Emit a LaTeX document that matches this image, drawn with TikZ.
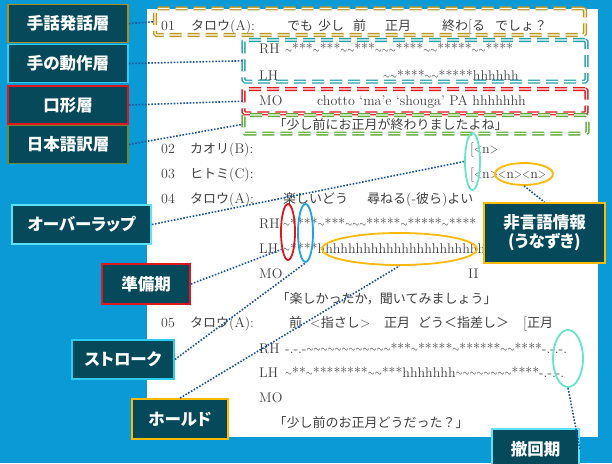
\documentclass[tikz,border=0pt]{standalone}
\usepackage{fontspec}
\usepackage{graphicx}
\newfontfamily\cjk{Noto Sans CJK JP}
\newfontfamily\cjklbl[RawFeature=+palt]{Noto Sans CJK JP}
\usetikzlibrary{shapes.geometric}
\definecolor{bgblue}{HTML}{0A9BD6}
\definecolor{boxfill}{HTML}{06495A}
\definecolor{goldlbl}{HTML}{B08C1E}
\definecolor{golddash}{HTML}{BE981E}
\definecolor{tealdash}{HTML}{24A2AC}
\definecolor{redc}{HTML}{E3161E}
\definecolor{greendash}{HTML}{5FAC38}
\definecolor{greenlbl}{HTML}{6B8A35}
\definecolor{cyanA}{HTML}{2ECBF5}
\definecolor{cyanB}{HTML}{5EE0F8}
\definecolor{amber}{HTML}{FFB900}
\definecolor{mint}{HTML}{66E6C8}
\definecolor{blueell}{HTML}{1DA5E8}
\definecolor{dotc}{HTML}{1A55A0}
\definecolor{txtgray}{HTML}{404040}
\newcommand\tld{\makebox[0.5em]{\raisebox{0.3pt}{\scalebox{0.62}[0.8]{$\sim$}}}}
\newcommand\nlt{\scalebox{0.77}[1]{<}}
\newcommand\ngt{\scalebox{0.77}[1]{>}}
\newcommand\jp[1]{{\cjk\fontsize{13}{15}\selectfont #1}}
\newcommand\lblf{\cjklbl\bfseries\fontsize{16.5}{19}\selectfont}
\tikzset{
  tx/.style={anchor=base west, inner sep=0pt, text=txtgray, font=\fontsize{14}{16}\selectfont},
  layer/.style={draw=#1, double=white, double distance=1.3pt, line width=1.4pt,
    dash pattern=on 12pt off 6pt, rounded corners=1.5pt, inner sep=0pt},
  lbl/.style={draw=#1, line width=1.8pt, fill=boxfill, text=white, font=\lblf,
    inner sep=0pt, align=center},
  ell/.style={draw=#1, ellipse, line width=1.8pt, inner sep=0pt},
  conn/.style={draw=dotc, line width=1.6pt, dash pattern=on 1.6pt off 1.6pt}
}
\begin{document}
\begin{tikzpicture}[x=1pt,y=-1pt]
\useasboundingbox (0,0) rectangle (612,463);
\fill[bgblue] (0,0) rectangle (612,463);
\fill[white] (147,9) rectangle (598,437);

% transcript
\node[tx] (n01) at (161,30.5) {01};
\node[tx] (s01) at (191,30.5) {\jp{タロウ}(A):};
\node[tx] (u01a) at (287,30.5) {\jp{でも}};
\node[tx] (u01b) at (318,30.5) {\jp{少し}};
\node[tx] (u01c) at (353,30.5) {\jp{前}};
\node[tx] (u01d) at (385,30.5) {\jp{正月}};
\node[tx] (u01e) at (442,30.5) {\jp{終わ}[\jp{る}};
\node[tx] (u01f) at (495,30.5) {\jp{でしょ？}};
\node[tx] (rh01l) at (259,53.5) {RH};
\node[tx] (rh01) at (285,53.5) {\tld***\tld***\tld\tld***\tld\tld\tld****\tld\tld*****\tld\tld****};
\node[tx] (lh01l) at (259,80) {LH};
\node[tx] (lh01) at (383,80) {\tld\tld****\tld\tld*****hhhhhh};
\node[tx] (mo01l) at (259,105) {MO};
\node[tx] (mo01) at (317,105) {chotto ‘ma’e ‘shouga’ PA hhhhhhh};
\node[tx] (tr01) at (273.5,129.5) {\jp{「少し前にお正月が終わりましたよね」}};

\node[tx] (n02) at (161,153) {02};
\node[tx] (s02) at (190,153) {\jp{カオリ}(B):};
\node[tx] (u02) at (470,153) {[\nlt n\ngt};
\node[tx] (n03) at (161,178) {03};
\node[tx] (s03) at (190,178) {\jp{ヒトミ}(C):};
\node[tx] (u03) at (470,178) {[\nlt n\ngt\nlt n\ngt\nlt n\ngt};

\node[tx] (n04) at (161,203) {04};
\node[tx] (s04) at (190,203) {\jp{タロウ}(A):};
\node[tx] (u04a) at (283,203) {\jp{楽しいどう}};
\node[tx] (u04b) at (367,203) {\jp{尋ねる}(-\jp{彼ら})\jp{よい}};
\node[tx] (rh04l) at (259,228) {RH};
\node[tx] (rh04) at (283,228) {\tld****\tld***\tld\tld\tld*****\tld*****\tld****};
\node[tx] (lh04l) at (259,253) {LH};
\node[tx] (lh04) at (283,253) {\tld****hhhhhhhhhhhhhhhhhhhhhh};
\node[tx] (mo04l) at (259,278) {MO};
\node[tx] (mo04) at (468,278) {II};
\node[tx] (tr04) at (276.5,303) {\jp{「楽しかったか，聞いてみましょう」}};

\node[tx] (n05) at (161,327) {05};
\node[tx] (s05) at (190,327) {\jp{タロウ}(A):};
\node[tx] (u05a) at (289,327) {\jp{前}};
\node[tx] (u05b) at (310,327) {<\jp{指さし}>};
\node[tx] (u05c) at (384,327) {\jp{正月}};
\node[tx] (u05d) at (418,327) {\jp{どう＜指差し＞}};
\node[tx] (u05e) at (523,327) {[\jp{正月}};
\node[tx] (rh05l) at (259,353) {RH};
\node[tx] (rh05) at (285,353) {-.-.-\tld\tld\tld\tld\tld\tld\tld\tld\tld\tld\tld\tld***\tld*****\tld******\tld\tld****-.-.-.};
\node[tx] (lh05l) at (259,377) {LH};
\node[tx] (lh05) at (285,377) {\tld**\tld********\tld\tld***hhhhhhh\tld\tld\tld\tld\tld\tld\tld\tld****-.-.-.};
\node[tx] (mo05l) at (259,402) {MO};
\node[tx] (tr05) at (273.5,427) {\jp{「少し前のお正月どうだった？」}};

% layer boxes
\node[layer=golddash, minimum width=430pt, minimum height=26.6pt] (Bsign) at (370,21.7) {};
\node[layer=tealdash, minimum width=343pt, minimum height=41.6pt] (Bhand) at (415,60.8) {};
\node[layer=redc, minimum width=343pt, minimum height=24.3pt] (Bmouth) at (415,101.2) {};
\node[layer=greendash, minimum width=344pt, minimum height=18.5pt] (Btrans) at (415.5,124.3) {};

% ellipses
\node[ell=mint, minimum width=15pt, minimum height=57pt] (e1) at (472.5,161.5) {};
\node[ell=amber, minimum width=58pt, minimum height=22pt] (e2) at (524,174) {};
\node[ell=redc, minimum width=14pt, minimum height=56pt] (e3) at (288,232) {};
\node[ell=blueell, minimum width=15pt, minimum height=58pt] (e4) at (305.5,233) {};
\node[ell=amber, minimum width=155pt, minimum height=32pt] (e5) at (399.5,249) {};
\node[ell=mint, minimum width=30pt, minimum height=57pt] (e6) at (568,358.5) {};

% labels
\node[lbl=goldlbl, minimum width=120pt, minimum height=38pt] (lsign) at (68,23.5) {手話発話層};
\node[lbl=cyanA, minimum width=120pt, minimum height=38pt] (lhand) at (68,63.5) {手の動作層};
\node[lbl=redc, minimum width=120pt, minimum height=38pt] (lmouth) at (68,105) {口形層};
\node[lbl=greenlbl, minimum width=120pt, minimum height=38pt] (ltrans) at (68,144.5) {日本語訳層};
\node[lbl=cyanB, minimum width=139pt, minimum height=39pt] (lover) at (81.5,224.5) {オーバーラップ};
\node[lbl=redc, minimum width=88pt, minimum height=40pt] (lprep) at (146,284) {準備期};
\node[lbl=cyanA, minimum width=102pt, minimum height=39pt] (lstroke) at (123,359.5) {ストローク};
\node[lbl=amber, minimum width=96pt, minimum height=40pt] (lhold) at (180,419) {ホールド};
\node[lbl=amber, minimum width=121pt, minimum height=60pt] (lnv) at (544.5,233) {非言語情報\\(うなずき)};
\node[lbl=cyanB, minimum width=87pt, minimum height=40pt] (lret) at (535.5,449) {撤回期};

% connectors
\draw[conn] (lsign.east) -- (Bsign.west);
\draw[conn] (lhand.east) -- (Bhand.west);
\draw[conn] (lmouth.east) -- (Bmouth.west);
\draw[conn] (ltrans.east) -- (Btrans.west);
\draw[conn] (lover.east) -- (e1.west);
\draw[conn] (e2.south) -- (lnv.north);
\draw[conn] (lprep.east) -- (e3.250);
\draw[conn] (lstroke.east) -- (e4.south);
\draw[conn] (lhold.north) -- (e5.south);
\draw[conn] (e6.south) -- (lret.east);
\end{tikzpicture}
\end{document}
